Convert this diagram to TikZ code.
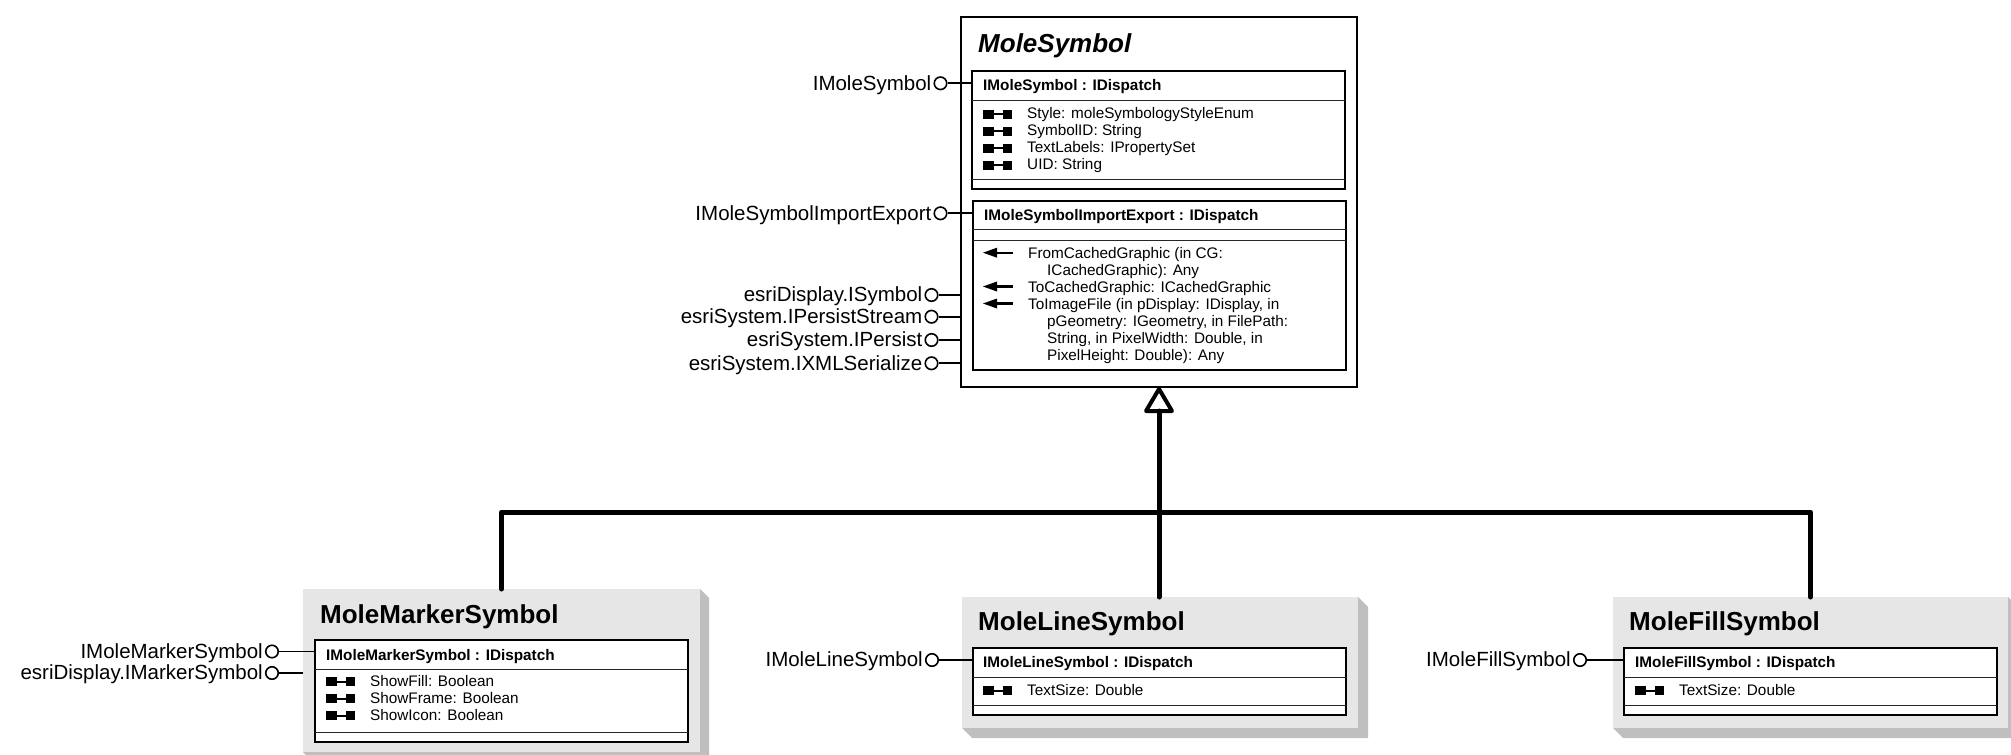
\documentclass[tikz,border=0pt]{standalone}
\usepackage{fontspec}
\setmainfont{Liberation Sans}
\definecolor{boxgray}{HTML}{E6E6E6}
\definecolor{shadowgray}{HTML}{BFBFBF}
\newcommand\fLbl{\fontsize{20.5pt}{24pt}\selectfont}
\newcommand\fTitle{\fontsize{26pt}{30pt}\selectfont\bfseries}
\newcommand\fTitleIt{\fontsize{26pt}{30pt}\selectfont\bfseries\itshape}
\newcommand\fHead{\fontsize{15.3pt}{18pt}\selectfont\bfseries}
\newcommand\fBody{\fontsize{15.3pt}{17pt}\selectfont}
\tikzset{
  propicon/.pic={\fill (0,-4.5) rectangle (11,4.5); \fill (20,-4.5) rectangle (29,4.5); \draw[line width=2pt] (10,0) -- (21,0);},
  methicon/.pic={\fill (0,0) -- (14,-5) -- (14,5) -- cycle; \draw[line width=2.4pt] (12,0) -- (30,0);}
}
\begin{document}
\begin{tikzpicture}[x=1pt,y=-1pt,
  ibox/.style={draw=black, line width=1.8pt, fill=white, inner sep=0pt, outer sep=0pt, anchor=north west},
  graybox/.style={fill=boxgray, inner sep=0pt, outer sep=0pt, anchor=north west},
  sepline/.style={line width=1pt, black!85},
  iface/.style={circle, draw=black, line width=1.6pt, fill=white, minimum size=12.5pt, inner sep=0pt},
  ilabel/.style={anchor=base east, inner sep=0pt, font=\fLbl},
  iline/.style={line width=1.8pt},
  ttl/.style={anchor=base west, inner sep=0pt, font=\fTitle},
  hd/.style={anchor=base west, inner sep=0pt, font=\fHead},
  bd/.style={anchor=base west, inner sep=0pt, font=\fBody},
  bus/.style={line width=5pt, line join=round, line cap=round},
  shadowfill/.style={fill=shadowgray},
]
\useasboundingbox (0,0) rectangle (2011,755);

% ---------- MoleSymbol ----------
\node[ibox, line width=2pt, minimum width=396pt, minimum height=370pt] (ms) at (961,17) {};
\node[ttl, font=\fTitleIt] (mst) at (978,52) {MoleSymbol};

\node[ibox, minimum width=373pt, minimum height=118pt] (msi1) at (972,71) {};
\draw[sepline] (972,100) -- (1345,100);
\draw[sepline] (972,179) -- (1345,179);
\node[hd] (msi1h) at (983,90) {IMoleSymbol : IDispatch};
\pic at (983,114) {propicon};
\node[bd] (p1) at (1027,118.3) {Style: moleSymbologyStyleEnum};
\pic at (983,131) {propicon};
\node[bd] (p2) at (1027,135.2) {SymbolID: String};
\pic at (983,148) {propicon};
\node[bd] (p3) at (1027,152.1) {TextLabels: IPropertySet};
\pic at (983,165) {propicon};
\node[bd] (p4) at (1027,169) {UID: String};

\node[ibox, minimum width=373pt, minimum height=169pt] (msi2) at (973,201) {};
\draw[sepline] (973,229) -- (1346,229);
\draw[sepline] (973,240) -- (1346,240);
\node[hd] (msi2h) at (984,220) {IMoleSymbolImportExport : IDispatch};
\pic at (983,252.7) {methicon};
\node[bd] (m1a) at (1028,258.3) {FromCachedGraphic (in CG:};
\node[bd] (m1b) at (1047,275.2) {ICachedGraphic): Any};
\pic at (983,286.5) {methicon};
\node[bd] (m2) at (1028,292) {ToCachedGraphic: ICachedGraphic};
\pic at (983,303.5) {methicon};
\node[bd] (m3a) at (1028,309) {ToImageFile (in pDisplay: IDisplay, in};
\node[bd] (m3b) at (1047,326) {pGeometry: IGeometry, in FilePath:};
\node[bd] (m3c) at (1047,343) {String, in PixelWidth: Double, in};
\node[bd] (m3d) at (1047,360.5) {PixelHeight: Double): Any};

% interfaces of MoleSymbol
\node[iface] (c1) at (940.5,83.3) {};
\node[ilabel] (c1l) at (931.5,90.1) {IMoleSymbol};
\draw[iline] (c1) -- (c1 -| msi1.west);
\node[iface] (c2) at (940.5,213.3) {};
\node[ilabel] (c2l) at (931.5,220.1) {IMoleSymbolImportExport};
\draw[iline] (c2) -- (c2 -| msi2.west);
\node[iface] (c3) at (931.5,295) {};
\node[ilabel] (c3l) at (922.5,301.8) {esriDisplay.ISymbol};
\draw[iline] (c3) -- (c3 -| ms.west);
\node[iface] (c4) at (931.5,316.7) {};
\node[ilabel] (c4l) at (922.5,323.5) {esriSystem.IPersistStream};
\draw[iline] (c4) -- (c4 -| ms.west);
\node[iface] (c5) at (931.5,340) {};
\node[ilabel] (c5l) at (922.5,346.8) {esriSystem.IPersist};
\draw[iline] (c5) -- (c5 -| ms.west);
\node[iface] (c6) at (931.5,363.3) {};
\node[ilabel] (c6l) at (922.5,370.1) {esriSystem.IXMLSerialize};
\draw[iline] (c6) -- (c6 -| ms.west);

% ---------- MoleMarkerSymbol ----------
\node[graybox, minimum width=397pt, minimum height=163pt] (mms) at (303,589) {};
\fill[shadowfill] (mms.north east) -- ([shift={(9,9)}]mms.north east) -- ([shift={(9,9)}]mms.south east) -- ([shift={(9,9)}]mms.south west) -- (mms.south west) -- (mms.south east) -- cycle;
\node[ttl] (mmst) at (320,623) {MoleMarkerSymbol};
\node[ibox, minimum width=373pt, minimum height=102pt] (mmi) at (315,640) {};
\draw[sepline] (315,669) -- (688,669);
\draw[sepline] (315,732) -- (688,732);
\node[hd] (mmih) at (326,660) {IMoleMarkerSymbol : IDispatch};
\pic at (326,681.5) {propicon};
\node[bd] (q1) at (370,686) {ShowFill: Boolean};
\pic at (326,698.5) {propicon};
\node[bd] (q2) at (370,703) {ShowFrame: Boolean};
\pic at (326,715.5) {propicon};
\node[bd] (q3) at (370,720) {ShowIcon: Boolean};
\node[iface] (d1) at (272,651.5) {};
\node[ilabel] (d1l) at (263,658.3) {IMoleMarkerSymbol};
\draw[iline] (d1) -- (d1 -| mmi.west);
\node[iface] (d2) at (272,673) {};
\node[ilabel] (d2l) at (263,679.8) {esriDisplay.IMarkerSymbol};
\draw[iline] (d2) -- (d2 -| mms.west);

% ---------- MoleLineSymbol ----------
\node[graybox, minimum width=396pt, minimum height=131pt] (mls) at (962,597) {};
\fill[shadowfill] (mls.north east) -- ([shift={(10,10)}]mls.north east) -- ([shift={(10,10)}]mls.south east) -- ([shift={(10,10)}]mls.south west) -- (mls.south west) -- (mls.south east) -- cycle;
\node[ttl] (mlst) at (978,630) {MoleLineSymbol};
\node[ibox, minimum width=373pt, minimum height=67pt] (mli) at (973,648) {};
\draw[sepline] (973,677) -- (1346,677);
\draw[sepline] (973,705) -- (1346,705);
\node[hd] (mlih) at (983,667) {IMoleLineSymbol : IDispatch};
\pic at (983,690.5) {propicon};
\node[bd] (r1) at (1027,695) {TextSize: Double};
\node[iface] (e1) at (932,660) {};
\node[ilabel] (e1l) at (923,666.8) {IMoleLineSymbol};
\draw[iline] (e1) -- (e1 -| mli.west);

% ---------- MoleFillSymbol ----------
\node[graybox, minimum width=395pt, minimum height=131pt] (mfs) at (1613,597) {};
\fill[shadowfill] (mfs.north east) -- ([shift={(10,10)}]mfs.north east) -- ([shift={(10,10)}]mfs.south east) -- ([shift={(10,10)}]mfs.south west) -- (mfs.south west) -- (mfs.south east) -- cycle;
\node[ttl] (mfst) at (1629,630) {MoleFillSymbol};
\node[ibox, minimum width=373pt, minimum height=67pt] (mfi) at (1624,648) {};
\draw[sepline] (1624,677) -- (1997,677);
\draw[sepline] (1624,705) -- (1997,705);
\node[hd] (mfih) at (1635,667) {IMoleFillSymbol : IDispatch};
\pic at (1635,690.5) {propicon};
\node[bd] (s1) at (1679,695) {TextSize: Double};
\node[iface] (f1) at (1580,660) {};
\node[ilabel] (f1l) at (1571,666.8) {IMoleFillSymbol};
\draw[iline] (f1) -- (f1 -| mfi.west);

% ---------- inheritance ----------
\coordinate (tip) at ([yshift=-2pt]ms.south);
\coordinate (tbase) at ([yshift=-24pt]ms.south);
\coordinate (busy) at (0,512);
\draw[line width=4pt, line join=round, fill=white] (tip) -- ++(-13,22) -- ++(26,0) -- cycle;
\draw[bus] (tbase) -- (tbase |- mls.north);
\draw[bus] (mms.north) -- (mms.north |- busy) -- (mfs.north |- busy) -- (mfs.north);
\end{tikzpicture}
\end{document}
